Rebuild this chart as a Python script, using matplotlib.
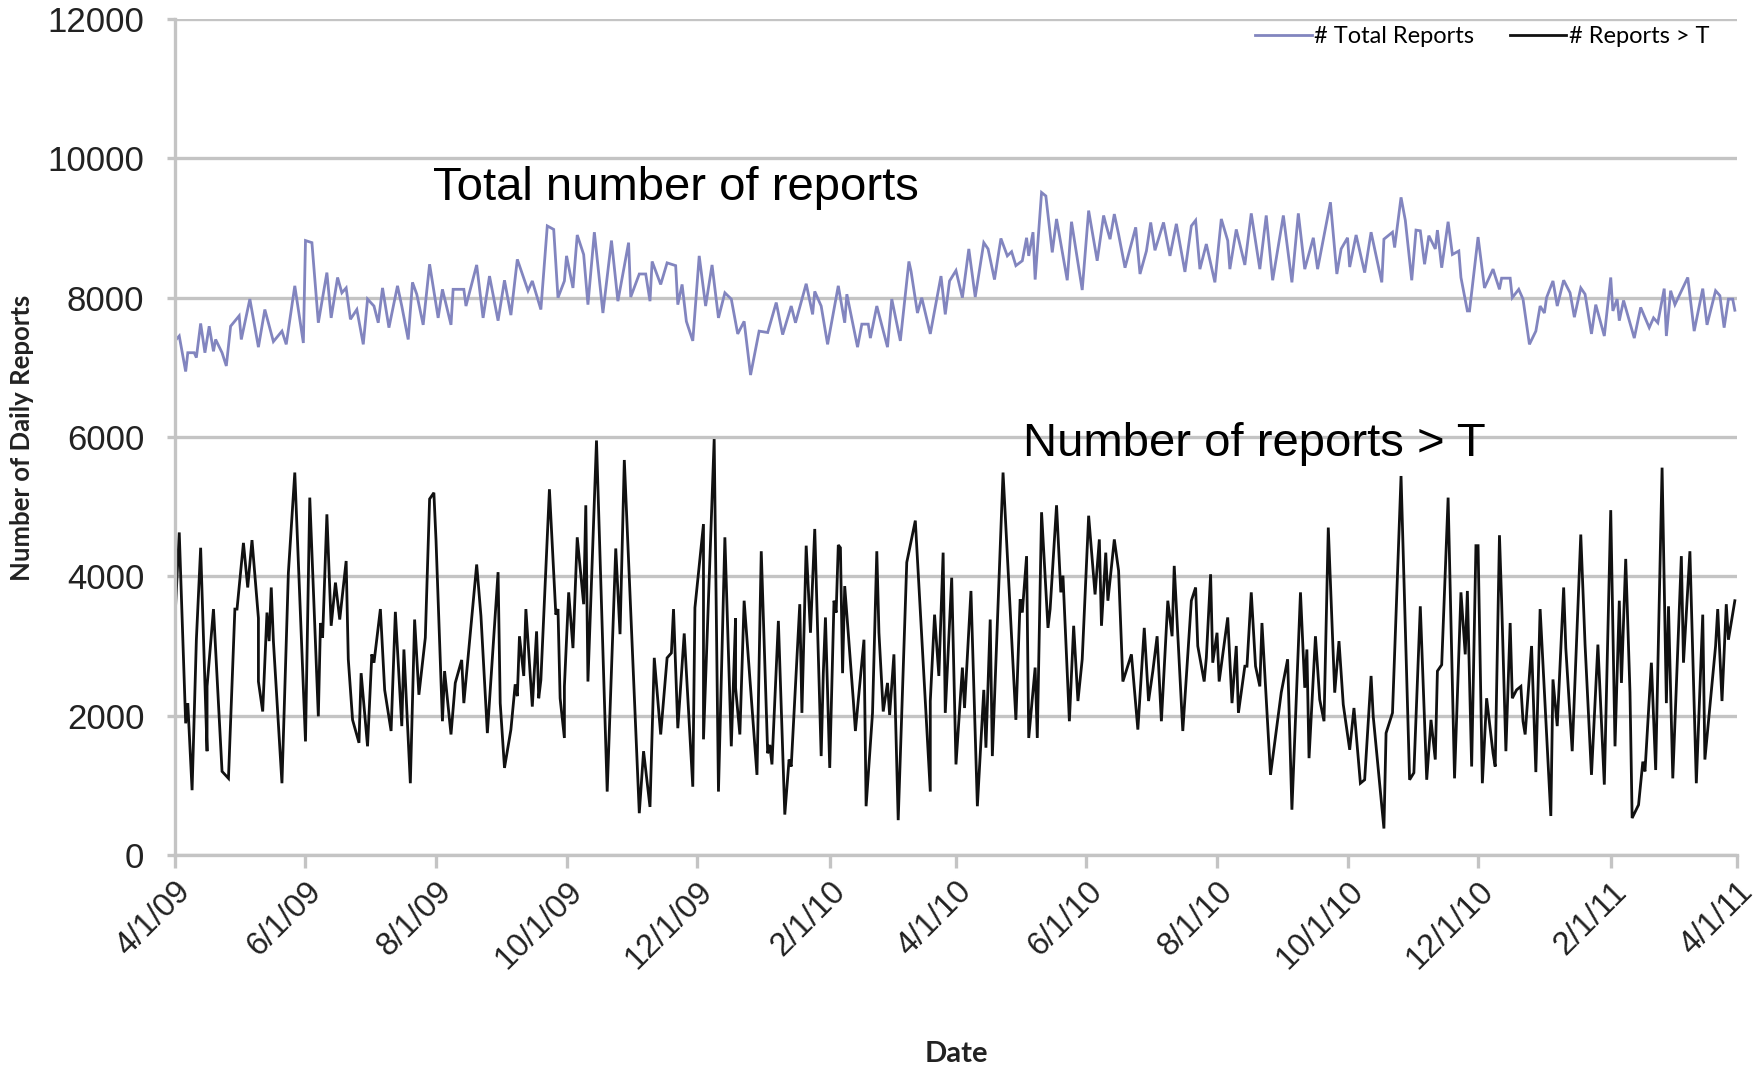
import numpy as np
import matplotlib
matplotlib.use("Agg")
import matplotlib.pyplot as plt
import matplotlib.transforms as mtransforms
from matplotlib.lines import Line2D

# daily report counts (day offset from 4/1/09, value)
total_days = [0, 2, 5, 6, 9, 10, 12, 14, 16, 18, 19, 22, 24, 26, 30, 31, 35, 39, 42, 46,
              50, 52, 56, 60, 61, 64, 67, 71, 73, 76, 78, 80, 82, 85, 88, 90, 93, 95, 97, 100,
              104, 106, 109, 111, 113, 116, 119, 123, 125, 129, 130, 135, 136, 141, 144, 147, 151, 154, 157, 160,
              165, 167, 171, 174, 177, 179, 182, 183, 186, 188, 191, 193, 196, 200, 204, 207, 212, 213, 217, 220,
              222, 223, 227, 230, 234, 235, 237, 239, 242, 245, 248, 251, 254, 257, 260, 263, 266, 269, 273, 277,
              281, 284, 288, 290, 295, 298, 299, 302, 305, 310, 313, 314, 319, 321, 324, 325, 328, 333, 335, 339,
              343, 344, 347, 349, 353, 358, 360, 362, 365, 368, 371, 374, 378, 380, 383, 386, 389, 391, 393, 396,
              398, 399, 401, 402, 405, 407, 410, 412, 417, 419, 424, 427, 431, 434, 435, 437, 439, 441, 444, 449,
              451, 454, 456, 458, 462, 465, 468, 472, 475, 477, 479, 482, 486, 489, 492, 493, 496, 500, 503, 507,
              510, 513, 518, 522, 525, 528, 532, 534, 540, 543, 545, 548, 549, 552, 556, 559, 564, 565, 569, 570,
              573, 575, 578, 580, 582, 584, 586, 589, 590, 592, 595, 597, 600, 601, 604, 605, 609, 612, 616, 617,
              619, 620, 624, 625, 628, 630, 633, 636, 638, 640, 641, 644, 646, 649, 652, 654, 657, 659, 662, 664,
              668, 671, 672, 674, 675, 677, 682, 685, 689, 691, 693, 696, 697, 699, 701, 707, 710, 714, 716, 720,
              722, 724, 726, 728, 729]
total_vals = [7380, 7450, 6940, 7210, 7210, 7140, 7630, 7210, 7590, 7230, 7400, 7210, 7020, 7590, 7740, 7400, 7980, 7290, 7830, 7370,
              7520, 7330, 8170, 7350, 8820, 8790, 7640, 8360, 7710, 8290, 8070, 8140, 7690, 7830, 7330, 7980, 7880, 7640, 8140, 7570,
              8170, 7880, 7400, 8220, 8050, 7610, 8480, 7710, 8120, 7610, 8120, 8120, 7880, 8470, 7710, 8310, 7670, 8250, 7750, 8550,
              8100, 8240, 7830, 9030, 8980, 8000, 8240, 8600, 8140, 8900, 8620, 7900, 8940, 7780, 8820, 7950, 8790, 8010, 8340, 8340,
              7950, 8520, 8190, 8500, 8460, 7900, 8190, 7660, 7380, 8600, 7880, 8470, 7710, 8070, 7980, 7480, 7660, 6890, 7520, 7500,
              7930, 7470, 7880, 7640, 8200, 7760, 8090, 7880, 7330, 8170, 7640, 8050, 7290, 7620, 7620, 7420, 7880, 7290, 7980, 7380,
              8520, 8380, 7780, 8000, 7480, 8310, 7760, 8240, 8390, 8000, 8700, 8010, 8790, 8700, 8260, 8850, 8600, 8660, 8460, 8530,
              8860, 8600, 8940, 8260, 9510, 9460, 8650, 9130, 8250, 9090, 8110, 9250, 8530, 9180, 9060, 8840, 9200, 8910, 8430, 9010,
              8340, 8670, 9080, 8680, 9080, 8600, 9060, 8370, 9030, 9110, 8410, 8770, 8220, 9130, 8820, 8410, 8980, 8470, 9210, 8410,
              9180, 8250, 9180, 8220, 9210, 8410, 8860, 8410, 9370, 8340, 8700, 8860, 8440, 8900, 8360, 8940, 8220, 8840, 8940, 8720,
              9440, 9110, 8250, 8970, 8960, 8480, 8890, 8700, 8970, 8430, 9090, 8620, 8670, 8290, 7810, 7810, 8870, 8140, 8410, 8310,
              8120, 8280, 8280, 8000, 8120, 7980, 7330, 7520, 7880, 7780, 8000, 8240, 7880, 8250, 8070, 7720, 8140, 8050, 7480, 7900,
              7450, 8290, 7810, 7980, 7670, 7960, 7420, 7860, 7570, 7710, 7640, 8130, 7450, 8100, 7900, 8290, 7520, 8130, 7610, 8100,
              8030, 7570, 7980, 7980, 7820]

above_days = [0, 2, 4, 5, 6, 8, 10, 12, 15, 15, 18, 22, 25, 28, 29, 32, 34, 36, 39, 39,
              41, 43, 44, 45, 46, 50, 53, 56, 61, 63, 67, 68, 69, 71, 73, 75, 77, 80, 81, 83,
              86, 87, 90, 92, 93, 96, 98, 101, 103, 106, 107, 110, 112, 114, 117, 119, 121, 122, 125, 126,
              129, 131, 134, 135, 141, 143, 146, 151, 152, 154, 157, 159, 160, 161, 163, 164, 167, 169, 170, 171,
              175, 178, 179, 180, 182, 182, 184, 186, 188, 191, 192, 193, 197, 202, 206, 208, 210, 217, 219, 222,
              224, 227, 230, 232, 233, 235, 238, 242, 243, 247, 247, 252, 254, 257, 260, 262, 262, 264, 266, 272,
              274, 277, 278, 279, 282, 285, 287, 288, 292, 293, 295, 297, 299, 302, 303, 304, 306, 308, 309, 310,
              311, 312, 313, 317, 318, 322, 323, 326, 328, 329, 331, 333, 334, 336, 338, 342, 346, 353, 353, 355,
              357, 359, 360, 363, 365, 368, 369, 372, 375, 378, 379, 381, 382, 387, 393, 395, 396, 398, 399, 402,
              403, 405, 408, 409, 412, 414, 415, 418, 420, 422, 424, 427, 430, 432, 433, 435, 436, 439, 441, 443,
              447, 450, 453, 455, 457, 459, 461, 464, 466, 467, 471, 475, 477, 478, 481, 482, 484, 485, 487, 488,
              492, 494, 496, 497, 500, 501, 503, 505, 507, 508, 512, 517, 520, 522, 526, 528, 529, 530, 533, 535,
              537, 539, 542, 544, 546, 549, 551, 554, 556, 559, 560, 565, 566, 569, 573, 577, 579, 582, 585, 587,
              589, 590, 592, 595, 598, 601, 603, 604, 606, 608, 609, 611, 613, 616, 617, 619, 620, 622, 624, 625,
              627, 629, 630, 631, 634, 636, 638, 643, 644, 646, 649, 650, 653, 657, 659, 662, 665, 668, 671, 673,
              675, 676, 678, 680, 681, 684, 686, 687, 690, 692, 695, 697, 698, 700, 704, 705, 708, 711, 714, 715,
              720, 721, 723, 725, 726, 729]
above_vals = [3400, 4630, 2810, 1890, 2180, 930, 3090, 4410, 1490, 2420, 3530, 1200, 1100, 3530, 3530, 4480, 3840, 4520, 3400, 2490,
              2060, 3480, 3070, 3840, 3070, 1030, 4050, 5490, 1630, 5130, 1990, 3330, 3120, 4890, 3290, 3910, 3380, 4220, 2810, 1940,
              1610, 2610, 1560, 2880, 2760, 3530, 2370, 1780, 3490, 1850, 2950, 1030, 3380, 2300, 3120, 5110, 5200, 4520, 1920, 2640,
              1730, 2470, 2800, 2180, 4170, 3430, 1750, 4060, 2180, 1250, 1800, 2450, 2280, 3140, 2570, 3530, 2130, 3210, 2250, 2510,
              5250, 3450, 3530, 2250, 1680, 2420, 3770, 2970, 4560, 3600, 5020, 2490, 5950, 910, 4400, 3170, 5670, 600, 1490, 690,
              2830, 1730, 2830, 2900, 3530, 1820, 3180, 980, 3550, 4750, 1660, 5970, 910, 4560, 1560, 3400, 2400, 1730, 3650, 1150,
              4360, 1460, 1580, 1300, 3360, 580, 1370, 1270, 3600, 2040, 4440, 3190, 4680, 1420, 2610, 3410, 1250, 3650, 3480, 4450,
              4410, 2610, 3860, 2230, 1780, 3090, 700, 2040, 4360, 3190, 2060, 2470, 2010, 2880, 500, 4200, 4800, 910, 2210, 3450,
              2570, 4340, 2040, 3980, 1300, 2690, 2110, 3790, 700, 2370, 1540, 3380, 1420, 5490, 1940, 3670, 3480, 4290, 1680, 2690,
              1680, 4920, 3260, 3530, 5020, 3770, 4010, 1920, 3290, 2210, 2810, 4870, 3740, 4530, 3290, 4340, 3650, 4530, 4080, 2490,
              2880, 1800, 3260, 2210, 2640, 3140, 1920, 3650, 3140, 4150, 1780, 3650, 3840, 3000, 2490, 2830, 4030, 2760, 3190, 2490,
              3410, 2180, 3000, 2040, 2710, 2710, 3770, 2710, 2420, 3330, 1150, 2330, 2810, 650, 3770, 2400, 2950, 1390, 3140, 2230,
              1920, 4700, 2330, 3070, 2160, 1510, 2110, 1030, 1080, 2570, 1990, 380, 1750, 2040, 5440, 1080, 1180, 3570, 1080, 1940,
              1370, 2640, 2730, 5130, 1100, 3770, 2880, 3790, 1270, 4440, 4440, 1030, 2250, 1460, 1270, 4590, 3650, 1490, 3330, 2250,
              2370, 2420, 1920, 1730, 3000, 1190, 3530, 560, 2520, 1850, 3840, 2970, 1490, 4600, 3020, 1150, 3020, 1010, 4950, 1560,
              3650, 2470, 4250, 2330, 530, 720, 1340, 1200, 2760, 1220, 5560, 2180, 3570, 1100, 4290, 2760, 4360, 1030, 3450, 1370,
              3000, 3530, 2210, 3600, 3090, 3650]

tick_dates = ['2009-04-01', '2009-06-01', '2009-08-01', '2009-10-01', '2009-12-01', '2010-02-01',
              '2010-04-01', '2010-06-01', '2010-08-01', '2010-10-01', '2010-12-01', '2011-02-01', '2011-04-01']
tick_labels = ['4/1/09', '6/1/09', '8/1/09', '10/1/09', '12/1/09', '2/1/10',
               '4/1/10', '6/1/10', '8/1/10', '10/1/10', '12/1/10', '2/1/11', '4/1/11']
y_ticks = [0, 2000, 4000, 6000, 8000, 10000, 12000]

start = np.datetime64('2009-04-01')
total_x = start + np.array(total_days).astype('timedelta64[D]')
above_x = start + np.array(above_days).astype('timedelta64[D]')
ticks_x = np.array(tick_dates, dtype='datetime64[D]')

grid_col = '#c4c4c4'
blue = '#8285bf'

fig = plt.figure(figsize=(17.62, 10.69), dpi=100)
ax = fig.add_axes([0.0993, 0.2002, 0.8865, 0.782])

ax.plot(total_x, total_vals, color=blue, lw=2.0, solid_joinstyle='miter')
ax.plot(above_x, above_vals, color='#111111', lw=2.0, solid_joinstyle='miter')

ax.set_xlim(np.datetime64('2009-04-01'), np.datetime64('2011-04-01'))
ax.set_ylim(0, 12000)
ax.set_yticks(y_ticks)
ax.set_yticklabels([str(v) for v in y_ticks], fontsize=25, family='Liberation Sans', color='#222222')
ax.set_xticks(ticks_x)
ax.set_xticklabels(tick_labels, fontsize=23.5, family='Liberation Sans', color='#222222',
                   rotation=45, ha='right', va='top', rotation_mode='anchor')
shift = mtransforms.ScaledTranslation(0.12, -0.03, fig.dpi_scale_trans)
for lbl in ax.get_xticklabels():
    lbl.set_transform(lbl.get_transform() + shift)

ax.grid(axis='y', color=grid_col, lw=2.4)
ax.set_axisbelow(True)
for side in ['top', 'right']:
    ax.spines[side].set_visible(False)
ax.spines['left'].set_color(grid_col)
ax.spines['left'].set_linewidth(2.4)
ax.spines['bottom'].set_color(grid_col)
ax.spines['bottom'].set_linewidth(2.4)
ax.tick_params(axis='x', length=9, width=2.4, color=grid_col, pad=6)
ax.tick_params(axis='y', length=6, width=2.4, color=grid_col, pad=16)

fig.text(0.2457, 0.824, 'Total number of reports', fontsize=34, family='Liberation Sans', va='center')
fig.text(0.5806, 0.585, 'Number of reports > T', fontsize=34, family='Liberation Sans', va='center')

fig.text(0.0125, 0.59, 'Number of Daily Reports', rotation=90, fontsize=18.5, fontweight='bold',
         family='Lato', ha='center', va='center', color='#222222')
fig.text(0.543, 0.014, 'Date', fontsize=21, fontweight='bold', family='Lato',
         ha='center', va='center', color='#222222')

handles = [Line2D([], [], color=blue, lw=2.0), Line2D([], [], color='#111111', lw=2.0)]
fig.legend(handles, ['# Total Reports', '# Reports > T'], loc='center right',
           bbox_to_anchor=(0.982, 0.966), ncol=2, frameon=False,
           prop={'family': 'Lato', 'size': 17}, handlelength=2.4, handletextpad=0.1,
           columnspacing=1.5)

fig.savefig('out.png', dpi=100)
